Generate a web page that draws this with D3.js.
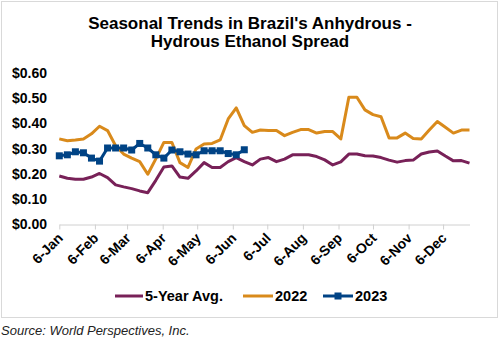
<!DOCTYPE html>
<html>
<head>
<meta charset="utf-8">
<script src="https://cdn.jsdelivr.net/npm/d3@7"></script>
<style>
  html, body { margin: 0; padding: 0; background: #fff; }
  svg { display: block; font-family: "Liberation Sans", Arial, sans-serif; }
</style>
</head>
<body>
<svg id="chart" width="499" height="340"></svg>
<script>
// Weekly spread ($/liter), first week starting 6-Jan
const firstWeek = new Date(2023, 0, 6);
const weekCount = 52;

const avg5 = [
  0.192, 0.183, 0.179, 0.179, 0.188, 0.202, 0.186, 0.157, 0.149, 0.142,
  0.133, 0.126, 0.175, 0.228, 0.232, 0.188, 0.183, 0.212, 0.245, 0.226,
  0.226, 0.249, 0.265, 0.249, 0.236, 0.259, 0.265, 0.249, 0.259, 0.276,
  0.276, 0.276, 0.269, 0.256, 0.236, 0.248, 0.279, 0.279, 0.272, 0.271,
  0.265, 0.255, 0.247, 0.253, 0.255, 0.279, 0.287, 0.291, 0.271, 0.252,
  0.253, 0.243
];

const y2022 = [
  0.339, 0.332, 0.335, 0.339, 0.359, 0.389, 0.372, 0.312, 0.279, 0.263,
  0.249, 0.199, 0.260, 0.325, 0.325, 0.245, 0.226, 0.299, 0.319, 0.321,
  0.335, 0.418, 0.462, 0.392, 0.365, 0.374, 0.372, 0.372, 0.352, 0.365,
  0.376, 0.376, 0.362, 0.368, 0.368, 0.339, 0.504, 0.504, 0.454, 0.435,
  0.427, 0.343, 0.343, 0.362, 0.341, 0.339, 0.374, 0.408, 0.385, 0.362,
  0.374, 0.374
];

const y2023 = [
  0.272, 0.276, 0.288, 0.284, 0.263, 0.251, 0.303, 0.303, 0.303, 0.295,
  0.321, 0.303, 0.276, 0.263, 0.295, 0.288, 0.279, 0.276, 0.292, 0.292,
  0.292, 0.281, 0.276, 0.296
];

const monthLabels = ["6-Jan", "6-Feb", "6-Mar", "6-Apr", "6-May", "6-Jun",
                     "6-Jul", "6-Aug", "6-Sep", "6-Oct", "6-Nov", "6-Dec"];
const yTicks = [0, 0.1, 0.2, 0.3, 0.4, 0.5, 0.6];

const seriesNames = ["5-Year Avg.", "2022", "2023"];
const seriesColors = ["#782158", "#d98a1b", "#004385"];

const weeks = d3.range(weekCount).map(i => d3.timeDay.offset(firstWeek, 7 * i));
const monthTicks = d3.range(12).map(m => new Date(2023, m, 6));

const svg = d3.select("#chart");

// chart frame
svg.append("rect")
  .attr("x", 1.5).attr("y", 1.5)
  .attr("width", 496).attr("height", 316)
  .attr("fill", "#fff").attr("stroke", "#d9d9d9").attr("stroke-width", 1);

// title
const title = svg.append("text")
  .attr("x", 250).attr("text-anchor", "middle")
  .attr("font-size", 17).attr("font-weight", "bold").attr("fill", "#000");
title.append("tspan").attr("x", 250).attr("y", 28.5).text("Seasonal Trends in Brazil's Anhydrous -");
title.append("tspan").attr("x", 250).attr("y", 46.5).text("Hydrous Ethanol Spread");

const x = d3.scaleTime()
  .domain([weeks[0], weeks[weeks.length - 1]])
  .range([59.3, 469.5]);

const y = d3.scaleLinear().domain([0, 0.6]).range([224.5, 73]);

// y axis (labels only)
const yAxis = d3.axisLeft(y)
  .tickValues(yTicks)
  .tickSize(0)
  .tickPadding(0)
  .tickFormat(d3.format("$.2f"));
const gy = svg.append("g").attr("transform", "translate(47,0)").call(yAxis);
gy.select(".domain").remove();
gy.selectAll("text")
  .attr("font-size", 14).attr("font-weight", "bold").attr("fill", "#000")
  .attr("font-family", "Liberation Sans, Arial, sans-serif");

// x axis
const xAxis = d3.axisBottom(x)
  .tickValues(monthTicks)
  .tickSize(5)
  .tickSizeOuter(0)
  .tickFormat((d, i) => monthLabels[i]);
const gx = svg.append("g").attr("transform", `translate(0,${y(0)})`).call(xAxis);
gx.select(".domain").attr("stroke", "#d0d0d0").attr("stroke-width", 1);
gx.selectAll(".tick line").attr("stroke", "#d0d0d0");
gx.selectAll("text")
  .attr("font-size", 14).attr("font-weight", "bold").attr("fill", "#000")
  .attr("font-family", "Liberation Sans, Arial, sans-serif")
  .attr("text-anchor", "end")
  .attr("x", 0).attr("y", 0).attr("dy", 0)
  .attr("transform", "translate(4,14.5) rotate(-45)");

const line = d3.line()
  .x((d, i) => x(weeks[i]))
  .y(d => y(d));

const plot = svg.append("g");

plot.append("path").datum(avg5)
  .attr("d", line).attr("fill", "none")
  .attr("stroke", seriesColors[0]).attr("stroke-width", 3)
  .attr("stroke-linejoin", "round");

plot.append("path").datum(y2022)
  .attr("d", line).attr("fill", "none")
  .attr("stroke", seriesColors[1]).attr("stroke-width", 3)
  .attr("stroke-linejoin", "round");

plot.append("path").datum(y2023)
  .attr("d", line).attr("fill", "none")
  .attr("stroke", seriesColors[2]).attr("stroke-width", 3)
  .attr("stroke-linejoin", "round");

plot.selectAll("rect.m23").data(y2023).join("rect")
  .attr("class", "m23")
  .attr("x", (d, i) => x(weeks[i]) - 3.5)
  .attr("y", d => y(d) - 3.5)
  .attr("width", 7).attr("height", 7)
  .attr("fill", seriesColors[2]);

// legend
const legendItems = [
  { x: 115, textX: 145 },
  { x: 243, textX: 275 },
  { x: 323, textX: 355 }
];
const lg = svg.append("g");
legendItems.forEach((it, i) => {
  const w = it.textX - it.x - 2;
  lg.append("line")
    .attr("x1", it.x).attr("x2", it.x + w)
    .attr("y1", 296).attr("y2", 296)
    .attr("stroke", seriesColors[i]).attr("stroke-width", 3);
  if (i === 2) {
    lg.append("rect")
      .attr("x", it.x + w / 2 - 3.5).attr("y", 292.5)
      .attr("width", 7).attr("height", 7)
      .attr("fill", seriesColors[i]);
  }
  lg.append("text")
    .attr("x", it.textX).attr("y", 301)
    .attr("font-size", 14.5).attr("font-weight", "bold").attr("fill", "#000")
    .text(seriesNames[i]);
});

// source note
svg.append("text")
  .attr("x", 1).attr("y", 335)
  .attr("font-size", 13).attr("font-style", "italic").attr("fill", "#222")
  .text("Source: World Perspectives, Inc.");
</script>
</body>
</html>
